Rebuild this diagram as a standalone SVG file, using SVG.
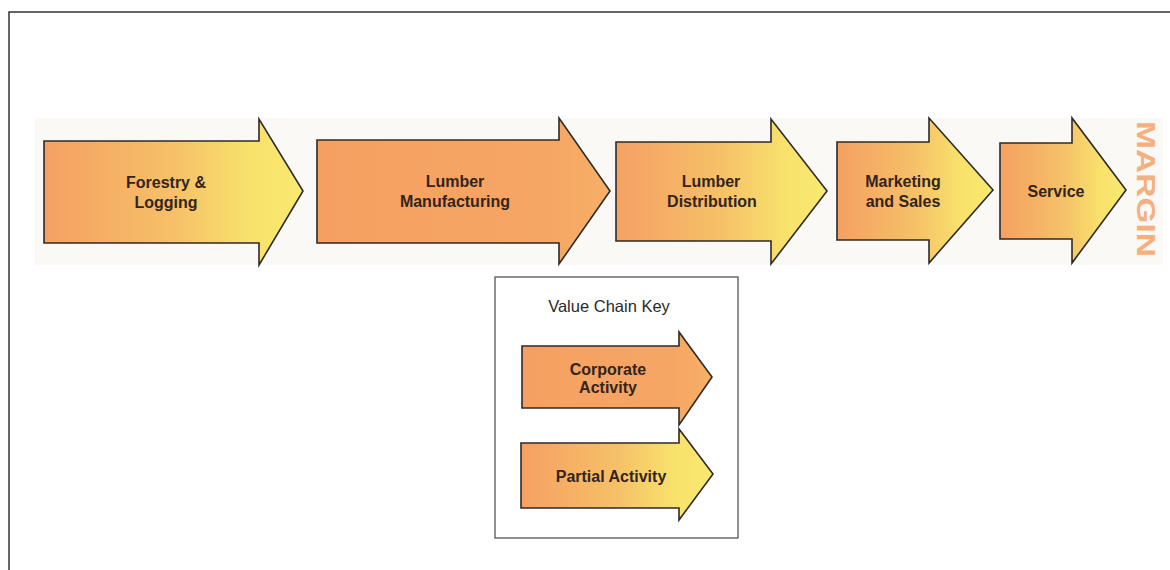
<svg xmlns="http://www.w3.org/2000/svg" width="1170" height="570" viewBox="0 0 1170 570">
<style>
.arrow{stroke:#2e2a28;stroke-width:1.6;stroke-linejoin:miter}
.lbl{font-family:"Liberation Sans",Arial,sans-serif;font-weight:bold;font-size:16px;fill:#33241c;text-anchor:middle}
.key{font-family:"Liberation Sans",Arial,sans-serif;font-size:16.5px;fill:#2a2a2a;text-anchor:middle}
.margin{font-family:"Liberation Sans",Arial,sans-serif;font-weight:bold;font-size:25px;fill:#f4b07e}
</style>
<defs>
<linearGradient id="gy" x1="0" y1="0" x2="1" y2="0">
<stop offset="0" stop-color="#f5a062"/>
<stop offset="0.5" stop-color="#f6c068"/>
<stop offset="0.8" stop-color="#f8e26c"/>
<stop offset="1" stop-color="#f8ea70"/>
</linearGradient>
<linearGradient id="go" x1="0" y1="0" x2="1" y2="0">
<stop offset="0" stop-color="#f5a062"/>
<stop offset="0.8" stop-color="#f6a664"/>
<stop offset="1" stop-color="#f6b066"/>
</linearGradient>
</defs>
<rect x="0" y="0" width="1170" height="570" fill="#ffffff"/>
<g id="frame" fill="none" stroke="#333" stroke-width="1.5">
<path d="M9,570 L9,12 L1170,12"/>
</g>
<rect id="band" x="35" y="118" width="1128" height="147" fill="#faf9f6"/>
<g id="connectors"></g>
<g id="n1">
<path class="arrow" fill="url(#gy)" d="M44,141 H259 V119 L303,191 L259,265 V243 H44 Z"/>
<text class="lbl" x="166" y="188">Forestry &amp;</text>
<text class="lbl" x="166" y="208">Logging</text>
</g>
<g id="n2">
<path class="arrow" fill="url(#go)" d="M317,140 H559 V118 L610,191 L559,264 V243 H317 Z"/>
<text class="lbl" x="455" y="187">Lumber</text>
<text class="lbl" x="455" y="207">Manufacturing</text>
</g>
<g id="n3">
<path class="arrow" fill="url(#gy)" d="M616,142 H771 V119 L827,191 L771,264 V241 H616 Z"/>
<text class="lbl" x="711" y="187">Lumber</text>
<text class="lbl" x="712" y="207">Distribution</text>
</g>
<g id="n4">
<path class="arrow" fill="url(#gy)" d="M837,142 H929 V118 L993,190 L929,263 V240 H837 Z"/>
<text class="lbl" x="903" y="187">Marketing</text>
<text class="lbl" x="903" y="207">and Sales</text>
</g>
<g id="n5">
<path class="arrow" fill="url(#gy)" d="M1000,143 H1072 V118 L1126,190 L1072,263 V239 H1000 Z"/>
<text class="lbl" x="1056" y="197">Service</text>
</g>
<g id="margin">
<text class="margin" transform="translate(1137,121) rotate(90)" textLength="136" lengthAdjust="spacingAndGlyphs">MARGIN</text>
</g>
<g id="key">
<rect x="495" y="277" width="243" height="261" fill="#fff" stroke="#555" stroke-width="1.3"/>
<text class="key" x="609" y="312">Value Chain Key</text>
<g id="key-corporate">
<path class="arrow" fill="url(#go)" d="M522,346 H679 V332 L712,377 L679,425 V408 H522 Z"/>
<text class="lbl" x="608" y="375">Corporate</text>
<text class="lbl" x="608" y="393">Activity</text>
</g>
<g id="key-partial">
<path class="arrow" fill="url(#gy)" d="M521,443 H679 V429 L713,474 L679,520 V508 H521 Z"/>
<text class="lbl" x="611" y="482">Partial Activity</text>
</g>
</g>
</svg>
